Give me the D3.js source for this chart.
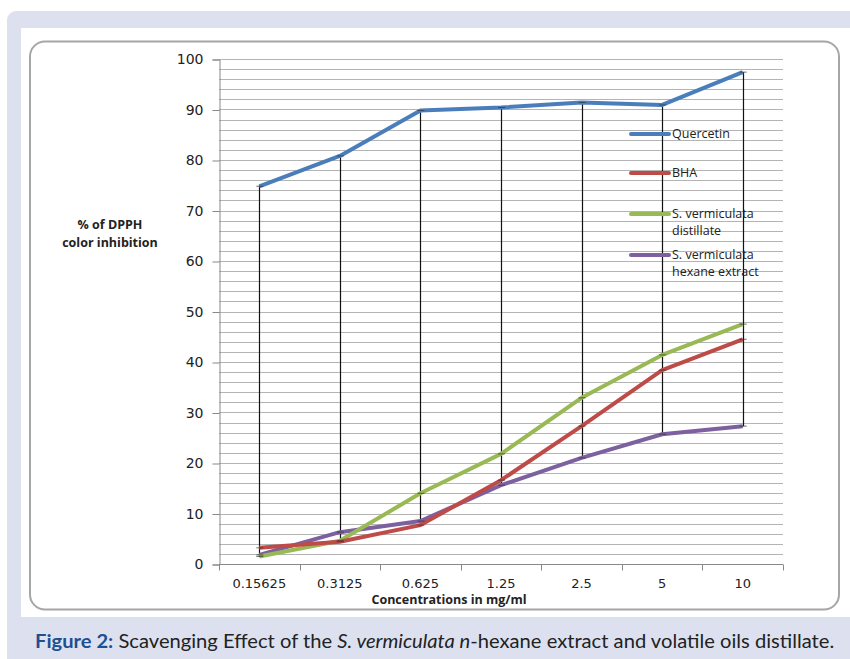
<!DOCTYPE html>
<html>
<head>
<meta charset="utf-8">
<script src="https://cdn.jsdelivr.net/npm/d3@7"></script>
<style>
  body { margin: 0; background: #fff; }
  svg { display: block; }
</style>
</head>
<body>
<script>
// concentrations (mg/ml) on the x axis
const categories = ["0.15625", "0.3125", "0.625", "1.25", "2.5", "5", "10"];

// % of DPPH color inhibition
const quercetin = [74.8, 80.8, 89.8, 90.4, 91.4, 90.9, 97.4];
const bha = [3.2, 4.4, 7.7, 16.6, 27.3, 38.4, 44.5];
const distillate = [1.5, 4.6, 14.0, 21.8, 32.9, 41.4, 47.5];
const hexane = [1.8, 6.3, 8.5, 15.6, 21.0, 25.7, 27.3];

const seriesNames = ["Quercetin", "BHA", "S. vermiculata distillate", "S. vermiculata hexane extract"];
const legendLines = [["Quercetin"], ["BHA"], ["S. vermiculata", "distillate"], ["S. vermiculata", "hexane extract"]];
const yTicks = [0, 10, 20, 30, 40, 50, 60, 70, 80, 90, 100];

const width = 850, height = 659;
const colors = ["#4a7ebb", "#be4b48", "#98b954", "#7d60a0"];
const series = [quercetin, bha, distillate, hexane];

const svg = d3.select("body").append("svg")
    .attr("width", width)
    .attr("height", height);

// page background: lavender frame, white panel
svg.append("rect").attr("x", 7).attr("y", 11).attr("width", 860).attr("height", 670)
    .attr("rx", 9).attr("fill", "#dde1ef");
svg.append("rect").attr("x", 21).attr("y", 28).attr("width", 840).attr("height", 589)
    .attr("fill", "#fff");

// chart frame
svg.append("rect").attr("x", 30).attr("y", 41.5).attr("width", 809).attr("height", 568)
    .attr("rx", 15).attr("fill", "none").attr("stroke", "#a6a6a6").attr("stroke-width", 2);

const x = d3.scaleBand().domain(categories).range([219, 783]);
const y = d3.scaleLinear().domain([0, 100]).range([564, 59]);

// gridlines every 2 units
svg.append("g").selectAll("line")
    .data(d3.range(2, 101, 2))
    .join("line")
    .attr("x1", 219).attr("x2", 783)
    .attr("y1", d => Math.round(y(d)) + 0.5).attr("y2", d => Math.round(y(d)) + 0.5)
    .attr("stroke", "#b4b4b4").attr("stroke-width", 1);

// y axis
const yAxis = svg.append("g").attr("transform", "translate(219.5,0.5)")
    .call(d3.axisLeft(y).tickValues(yTicks).tickSize(7).tickPadding(9).tickFormat(d3.format("d")));
yAxis.select(".domain").attr("stroke", "#888");
yAxis.selectAll(".tick line").attr("stroke", "#888");
yAxis.selectAll("text").attr("font-family", "DejaVu Sans").attr("font-size", 14).attr("fill", "#222");

// x axis with ticks on band edges
const xg = svg.append("g").attr("transform", "translate(0," + (y(0) + 0.5) + ")");
xg.append("line").attr("x1", 219).attr("x2", 783).attr("stroke", "#888");
xg.selectAll(".tk")
    .data(categories.concat(["end"]))
    .join("line")
    .attr("class", "tk")
    .attr("x1", (d, i) => Math.round(219 + i * x.bandwidth()) + 0.5)
    .attr("x2", (d, i) => Math.round(219 + i * x.bandwidth()) + 0.5)
    .attr("y1", 0).attr("y2", 6)
    .attr("stroke", "#888");
xg.selectAll("text")
    .data(categories)
    .join("text")
    .attr("x", d => x(d) + x.bandwidth() / 2)
    .attr("y", 23)
    .attr("text-anchor", "middle")
    .attr("font-family", "DejaVu Sans").attr("font-size", 13).attr("fill", "#222")
    .text(d => d);

// high-low drop lines
svg.append("g").selectAll("line")
    .data(categories)
    .join("line")
    .attr("x1", d => Math.round(x(d) + x.bandwidth() / 2) + 0.5)
    .attr("x2", d => Math.round(x(d) + x.bandwidth() / 2) + 0.5)
    .attr("y1", (d, i) => y(d3.max(series, s => s[i])))
    .attr("y2", (d, i) => y(d3.min(series, s => s[i])))
    .attr("stroke", "#111").attr("stroke-width", 1.2);

// series lines
const line = d3.line()
    .x((d, i) => x(categories[i]) + x.bandwidth() / 2)
    .y(d => y(d));

svg.append("g").selectAll("path")
    .data(series.slice().reverse())
    .join("path")
    .attr("d", d => line(d))
    .attr("fill", "none")
    .attr("stroke", (d, i) => colors[series.length - 1 - i])
    .attr("stroke-width", 4)
    .attr("stroke-linejoin", "round");

// tiny error caps
svg.append("g").selectAll("line")
    .data(series.flatMap(s => s.map((v, i) => ({ v, i }))))
    .join("line")
    .attr("x1", d => x(categories[d.i]) + x.bandwidth() / 2 - 3)
    .attr("x2", d => x(categories[d.i]) + x.bandwidth() / 2 + 4)
    .attr("y1", d => y(d.v)).attr("y2", d => y(d.v))
    .attr("stroke", "#333").attr("stroke-width", 1).attr("opacity", 0.7);

// y title
const yt = svg.append("text")
    .attr("text-anchor", "middle")
    .attr("font-family", "Open Sans").attr("font-weight", "bold").attr("font-size", 12.5).attr("fill", "#222");
yt.append("tspan").attr("x", 110).attr("y", 229).text("% of DPPH");
yt.append("tspan").attr("x", 110).attr("y", 247).text("color inhibition");

// x title
svg.append("text")
    .attr("x", 449).attr("y", 604)
    .attr("text-anchor", "middle")
    .attr("font-family", "Open Sans").attr("font-weight", "bold").attr("font-size", 12.5).attr("fill", "#222")
    .text("Concentrations in mg/ml");

// legend
const legend = svg.append("g");
const legY = [134, 173, 214, 255];
legendLines.forEach((lines, i) => {
    legend.append("line")
        .attr("x1", 631).attr("x2", 669)
        .attr("y1", legY[i]).attr("y2", legY[i])
        .attr("stroke", colors[i]).attr("stroke-width", 4).attr("stroke-linecap", "round");
    const t = legend.append("text")
        .attr("font-family", "Open Sans").attr("font-size", 12.5).attr("fill", "#222");
    lines.forEach((s, j) => {
        t.append("tspan").attr("x", 672).attr("y", legY[i] + 4 + j * 17).text(s);
    });
});

// caption
const cap = svg.append("text")
    .attr("font-family", "Lato").attr("font-size", 19).attr("fill", "#222");
cap.append("tspan").attr("font-weight", "bold").attr("fill", "#1d4f91").text("Figure 2:");
cap.append("tspan").text(" Scavenging Effect of the ");
cap.append("tspan").attr("font-style", "italic").text("S. vermiculata n");
cap.append("tspan").text("-hexane extract and volatile oils distillate.");
const capW = cap.node().getComputedTextLength();
cap.attr("transform", "translate(35,648) scale(" + (800 / capW) + ",1)");
</script>
</body>
</html>
